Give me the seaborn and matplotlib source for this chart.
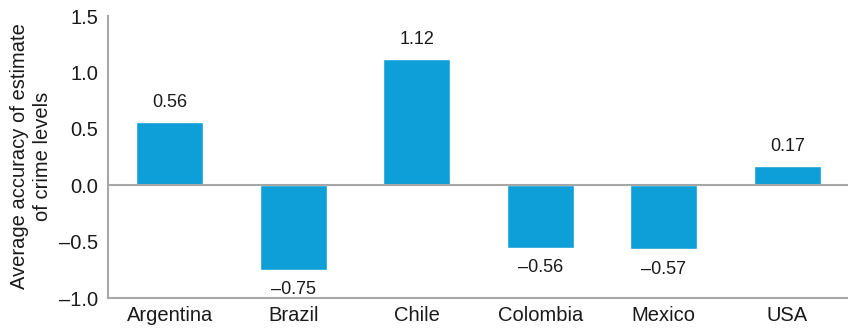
import matplotlib
matplotlib.use("Agg")
import matplotlib.pyplot as plt
import seaborn as sns
import pandas as pd

countries = ["Argentina", "Brazil", "Chile", "Colombia", "Mexico", "USA"]
values = [0.56, -0.75, 1.12, -0.56, -0.57, 0.17]
yticks = [-1.0, -0.5, 0.0, 0.5, 1.0, 1.5]
ylabel = "Average accuracy of estimate\nof crime levels"

sns.set_style("white")
plt.rcParams['font.family'] = ['Liberation Sans', 'DejaVu Sans']

BAR = "#0F9FD8"
GRAY = "#A6A6A6"
TXT = "#1A1A1A"

df = pd.DataFrame({"country": countries, "value": values})

fig = plt.figure(figsize=(8.48, 3.32), dpi=100)
ax = fig.add_axes([108/848, 34/332, 741/848, 282/332])

sns.barplot(data=df, x="country", y="value", color=BAR, width=0.54,
            saturation=1, ax=ax, zorder=2)

ax.set_xlim(-0.5, len(countries) - 0.5)
ax.set_ylim(-1.0, 1.5)
ax.set_yticks(yticks)
ax.set_yticklabels([f"{t:.1f}".replace("-", "\u2013") for t in yticks],
                   fontsize=14.5, color=TXT)
ax.set_xticks(range(len(countries)))
ax.set_xticklabels(countries, fontsize=14.5, color=TXT)
ax.tick_params(axis="x", length=0, pad=6)
ax.set_xticks([i - 0.5 for i in range(len(countries) + 1)], minor=True)
ax.tick_params(axis="x", which="minor", length=5, width=1.2, color=GRAY)
ax.tick_params(axis="y", length=5, width=1.2, color=GRAY, pad=2)

ax.axhline(0, color=GRAY, lw=1.5, zorder=3)

for s in ["top", "right"]:
    ax.spines[s].set_visible(False)
for s in ["left", "bottom"]:
    ax.spines[s].set_color(GRAY)
    ax.spines[s].set_linewidth(1.5)

ax.set_xlabel("")
ax.set_ylabel("")
fig.text(31/848, 1 - 156/332, ylabel, rotation=90, ha="center", va="center",
         multialignment="center", fontsize=14.5, color=TXT, linespacing=1.3)

for container in ax.containers:
    labels = [f"{v:.2f}".replace("-", "\u2013") for v in values]
    ax.bar_label(container, labels=labels, padding=8, fontsize=13, color=TXT)

fig.savefig("out.png", dpi=100)
